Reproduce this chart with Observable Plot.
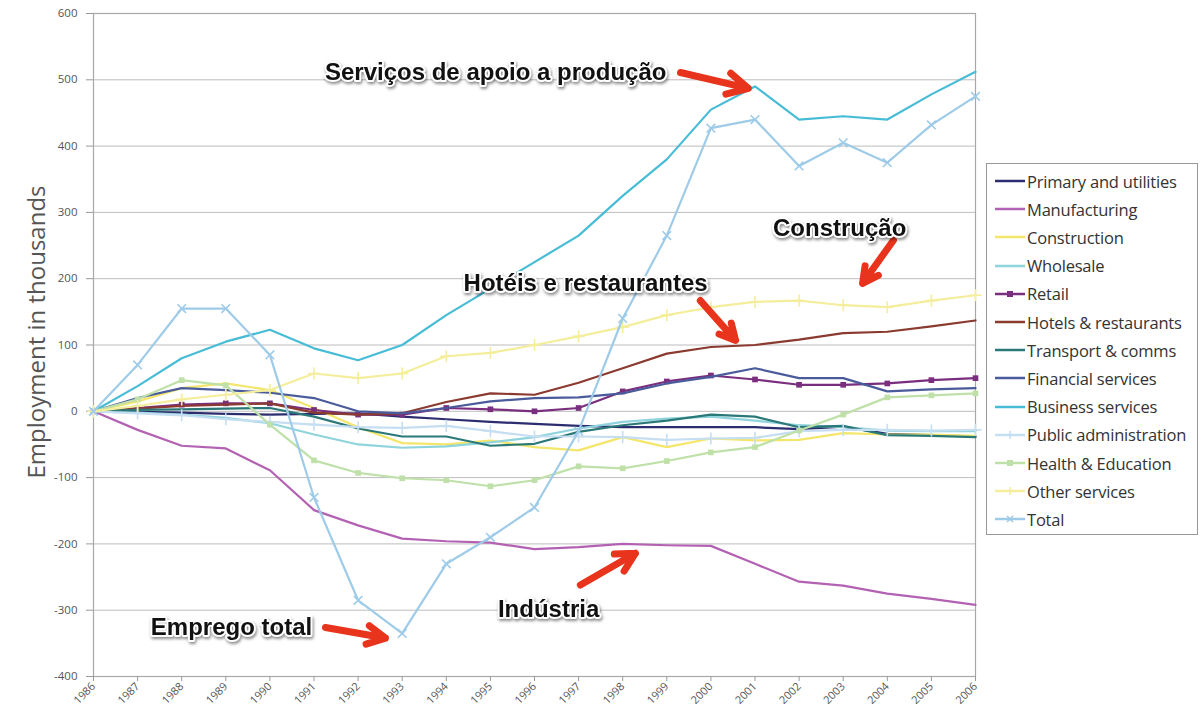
<!DOCTYPE html>
<html>
<head>
<meta charset="utf-8">
<script src="https://cdn.jsdelivr.net/npm/d3@7"></script>
<script src="https://cdn.jsdelivr.net/npm/@observablehq/plot@0.6"></script>
<style>
  html, body { margin: 0; padding: 0; background: #fff; }
  #wrap { position: relative; width: 1201px; height: 722px; overflow: hidden; font-family: "Open Sans", "DejaVu Sans", sans-serif; }
  #ylabel { position: absolute; left: 35px; top: 332px; transform: translate(-50%, -50%) rotate(-90deg); font-size: 24px; color: #555; white-space: nowrap; }
  #legend { position: absolute; left: 986px; top: 163px; width: 212px; height: 372px; border: 1px solid #999; box-sizing: border-box; background: #fff; }
  .row { position: absolute; left: 8px; height: 20px; display: flex; align-items: center; font-size: 16.5px; letter-spacing: -0.2px; color: #333; white-space: nowrap; }
  .row svg { margin-right: 2px; }
</style>
</head>
<body>
<div id="wrap">
  <div id="chart"></div>
  <div id="ylabel">Employment in thousands</div>
  <div id="legend"></div>
</div>
<script>
const years = d3.range(1986, 2007);
const yTicks = [-400, -300, -200, -100, 0, 100, 200, 300, 400, 500, 600];

const seriesNames = ["Primary and utilities", "Manufacturing", "Construction", "Wholesale", "Retail",
  "Hotels & restaurants", "Transport & comms", "Financial services", "Business services",
  "Public administration", "Health & Education", "Other services", "Total"];
const seriesColors = ["#2b2d6e", "#b362b3", "#f3e66a", "#8fd3dc", "#7a2e7e",
  "#8b3a2f", "#2a7878", "#4a5b9c", "#47bcd6",
  "#c6def2", "#bfe0a9", "#f4ee9c", "#9ecbe8"];
const seriesMarkers = [null, null, null, null, "square", null, null, null, null, "plus", "square", "plus", "times"];

const primary       = [0, -1, -2, -4, -5, -4, -3, -8, -12, -16, -19, -22, -24, -24, -24, -24, -27, -23, -34, -36, -38];
const manufacturing = [0, -28, -52, -56, -89, -149, -172, -192, -196, -198, -208, -205, -200, -202, -203, -230, -257, -263, -275, -283, -292];
const construction  = [0, 15, 35, 42, 32, 5, -24, -48, -50, -44, -54, -59, -39, -54, -41, -44, -43, -33, -35, -35, -37];
const wholesale     = [0, -2, -5, -10, -18, -35, -50, -55, -53, -47, -39, -26, -16, -11, -8, -14, -21, -24, -29, -30, -30];
const retail        = [0, 5, 10, 12, 12, 2, -5, -5, 5, 3, 0, 5, 30, 45, 54, 48, 40, 40, 42, 47, 50];
const hotels        = [0, 4, 8, 10, 12, -2, -5, -3, 14, 27, 25, 43, 65, 87, 97, 100, 108, 118, 120, 128, 137];
const transport     = [0, 2, 3, 4, 5, -8, -26, -38, -38, -52, -49, -31, -21, -14, -5, -8, -24, -22, -36, -37, -39];
const financial     = [0, 20, 35, 32, 28, 20, 0, -3, 5, 15, 20, 21, 27, 42, 52, 65, 50, 50, 30, 33, 35];
const business      = [0, 38, 80, 105, 123, 95, 77, 100, 145, 185, 225, 265, 325, 380, 455, 490, 440, 445, 440, 478, 512];
const publicAdmin   = [0, -3, -6, -12, -16, -20, -24, -25, -22, -30, -38, -38, -39, -43, -41, -40, -30, -28, -28, -29, -28];
const health        = [0, 18, 47, 39, -20, -74, -93, -101, -104, -113, -104, -83, -86, -75, -62, -54, -29, -5, 21, 24, 27];
const otherServices = [0, 8, 18, 25, 32, 57, 50, 57, 83, 88, 100, 113, 127, 145, 157, 165, 167, 160, 157, 167, 175];
const total         = [0, 70, 155, 155, 85, -130, -285, -335, -230, -190, -145, -30, 140, 265, 427, 440, 370, 405, 375, 432, 475];

const seriesValues = [primary, manufacturing, construction, wholesale, retail, hotels, transport,
  financial, business, publicAdmin, health, otherServices, total];

// annotations (data coordinates)
const noteText = ["Serviços de apoio a produção", "Construção", "Hotéis e restaurantes", "Indústria", "Emprego total"];
const noteYear = [1995.12, 2002.92, 1997.16, 1996.32, 1989.13];
const noteVal  = [512, 276, 193, -299, -326];
const arrowYear1 = [1999.31, 2004.14, 1999.76, 1997.04, 1991.26];
const arrowVal1  = [511, 258, 167, -262, -326];
const arrowYear2 = [2000.85, 2003.44, 2000.56, 1998.29, 1992.62];
const arrowVal2  = [487, 193, 107, -214, -342];

const rows = [];
seriesNames.forEach((name, i) => {
  years.forEach((yr, j) => rows.push({series: name, year: yr, value: seriesValues[i][j], idx: i}));
});
const notes = noteText.map((t, i) => ({text: t, x: noteYear[i], y: noteVal[i], x1: arrowYear1[i], y1: arrowVal1[i], x2: arrowYear2[i], y2: arrowVal2[i]}));

const marks = [
  Plot.gridY(yTicks, {stroke: "#bdbdbd", strokeOpacity: 1, strokeWidth: 1}),
  Plot.frame({stroke: "#a8a8a8", strokeWidth: 1.2}),
  Plot.axisY(yTicks, {tickSize: 7, tickPadding: 9, fontSize: 11.5, fill: "#555", stroke: "#999", label: null, tickFormat: d => String(d)}),
  Plot.axisX(years, {tickSize: 5, tickRotate: -45, tickPadding: 3, fontSize: 11, fill: "#555", stroke: "#999", label: null, tickFormat: d => String(d)})
];
seriesNames.forEach((name, i) => {
  const d = rows.filter(r => r.idx === i);
  marks.push(Plot.line(d, {x: "year", y: "value", stroke: seriesColors[i], strokeWidth: 2.2}));
  if (seriesMarkers[i]) {
    const filled = seriesMarkers[i] === "square";
    marks.push(Plot.dot(d, {x: "year", y: "value", symbol: seriesMarkers[i], r: filled ? 3.2 : 4,
      fill: filled ? seriesColors[i] : "none", stroke: seriesColors[i], strokeWidth: filled ? 0 : 1.6}));
  }
});
marks.push(Plot.arrow(notes, {x1: "x1", y1: "y1", x2: "x2", y2: "y2", stroke: "#e8341c", strokeWidth: 7, headLength: 18, headAngle: 55, bend: 0}));
marks.push(Plot.text(notes, {x: "x", y: "y", text: "text", fontSize: 24, fontWeight: "bold", fontFamily: "Liberation Sans, Arial, sans-serif",
  fill: "#111", stroke: "white", strokeWidth: 4, paintOrder: "stroke"}));

const chart = Plot.plot({
  width: 1201,
  height: 722,
  marginLeft: 93,
  marginRight: 226,
  marginTop: 13,
  marginBottom: 46,
  style: {background: "white", fontFamily: "Open Sans, DejaVu Sans, sans-serif"},
  x: {domain: [1986, 2006]},
  y: {domain: [-400, 600]},
  marks
});
document.getElementById("chart").appendChild(chart);
d3.select(chart).selectAll("text").filter(function() { return noteText.includes(this.textContent); })
  .style("filter", "drop-shadow(1px 2px 1.5px rgba(0,0,0,0.45))");

// legend
const legend = document.getElementById("legend");
seriesNames.forEach((name, i) => {
  const row = document.createElement("div");
  row.className = "row";
  row.style.top = (7 + i * 28.2) + "px";
  const mk = seriesMarkers[i];
  let markerSvg = "";
  if (mk === "square") markerSvg = `<rect x="12" y="6" width="6" height="6" fill="${seriesColors[i]}"/>`;
  else if (mk === "plus") markerSvg = `<path d="M11,9H19M15,5V13" stroke="${seriesColors[i]}" stroke-width="1.6"/>`;
  else if (mk === "times") markerSvg = `<path d="M12,6L18,12M18,6L12,12" stroke="${seriesColors[i]}" stroke-width="1.6"/>`;
  row.innerHTML = `<svg width="30" height="18"><line x1="0" y1="9" x2="30" y2="9" stroke="${seriesColors[i]}" stroke-width="2.5"/>${markerSvg}</svg><span>${name}</span>`;
  legend.appendChild(row);
});
</script>
</body>
</html>
